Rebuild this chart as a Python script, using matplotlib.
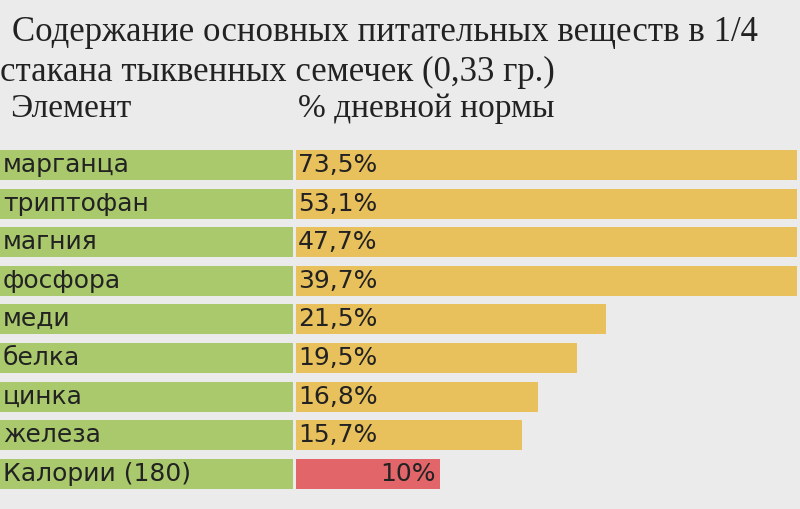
import matplotlib
matplotlib.use("Agg")
import matplotlib.pyplot as plt

title1 = "Содержание основных питательных веществ в 1/4"
title2 = "стакана тыквенных семечек (0,33 гр.)"
col_headers = ["Элемент", "% дневной нормы"]
elements = ["марганца", "триптофан", "магния", "фосфора", "меди", "белка", "цинка", "железа", "Калории (180)"]
values = [73.5, 53.1, 47.7, 39.7, 21.5, 19.5, 16.8, 15.7, 10.0]
labels = ["73,5%", "53,1%", "47,7%", "39,7%", "21,5%", "19,5%", "16,8%", "15,7%", "10%"]

fig = plt.figure(figsize=(8.0, 5.09), dpi=100)
fig.patch.set_facecolor("#ebebeb")
ax = fig.add_axes([0, 0, 1, 1])
ax.set_xlim(0, 800)
ax.set_ylim(509, 0)
ax.axis("off")

scale = 14.4      # px per percent
left = 296
maxw = 501
y0, step, h = 165, 38.6, 30

green, orange, red = "#a9c96c", "#e9c15c", "#e2656a"
serif = "Liberation Serif"
sans = "DejaVu Sans"

ax.text(12, 32, title1, fontsize=25, family=serif, color="#222", va="center")
ax.text(0, 72, title2, fontsize=25, family=serif, color="#222", va="center")
ax.text(10, 109, col_headers[0], fontsize=24, family=serif, color="#222", va="center")
ax.text(298, 109, col_headers[1], fontsize=24, family=serif, color="#222", va="center")

n = len(elements)
ys = [y0 + i * step for i in range(n)]
ax.barh(ys, [293] * n, left=0, height=h, color=green)
widths = [min(v * scale, maxw) for v in values]
colors = [orange] * (n - 1) + [red]
ax.barh(ys, widths, left=left, height=h, color=colors)

for i, (y, e, lab, w) in enumerate(zip(ys, elements, labels, widths)):
    ax.text(3, y, e, fontsize=18, family=sans, color="#222", va="center")
    if i == n - 1:
        ax.text(left + w - 4, y, lab, fontsize=18, family=sans, color="#222", va="center", ha="right")
    else:
        ax.text(left + 2, y, lab, fontsize=18, family=sans, color="#222", va="center")

fig.savefig("out.png", dpi=100, facecolor=fig.get_facecolor())
